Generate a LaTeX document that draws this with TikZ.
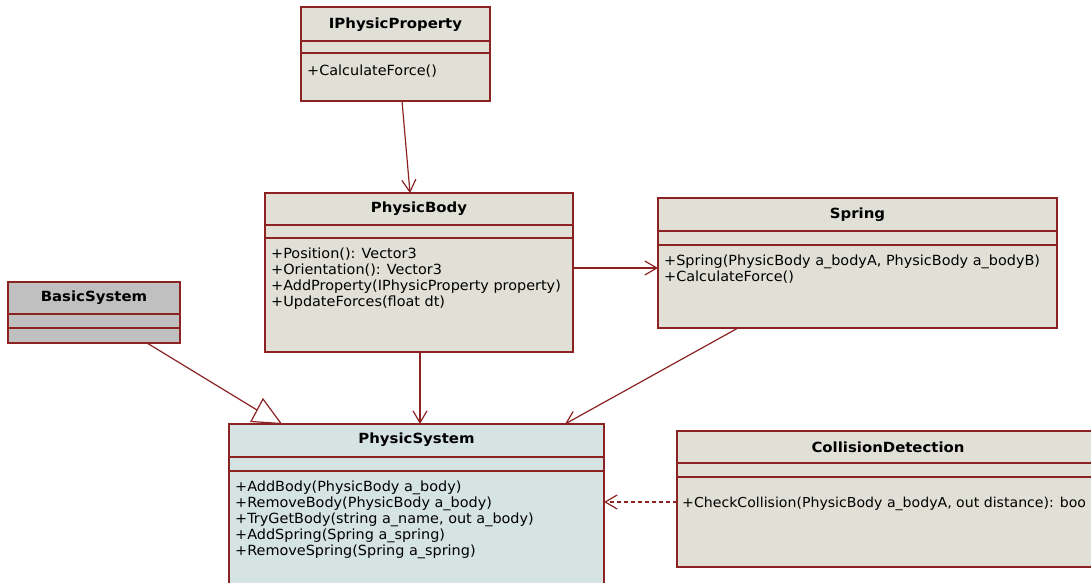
\documentclass[tikz,border=0pt]{standalone}
\usepackage{fontspec}
\setmainfont{DejaVu Sans}
\newfontfamily\umlfont[FakeStretch=1.03]{DejaVu Sans}
\newfontfamily\umlbold[FakeStretch=1.065]{DejaVu Sans Bold}
\usetikzlibrary{arrows.meta}
\definecolor{umlborder}{RGB}{140,34,34}
\definecolor{boxfill}{RGB}{225,224,214}
\definecolor{sysfill}{RGB}{213,227,227}
\definecolor{basefill}{RGB}{192,192,192}
\begin{document}
\begin{tikzpicture}[x=1pt,y=-1pt,
  classbox/.style={draw=umlborder, line width=1.3pt, inner sep=0pt, outer sep=0pt, anchor=north west},
  sepline/.style={draw=umlborder, line width=1.2pt},
  ctitle/.style={font=\umlbold\fontsize{14}{16}\selectfont, inner sep=0pt, anchor=center},
  cops/.style={font=\umlfont\fontsize{14}{16}\selectfont, align=left, inner sep=0pt, anchor=north west},
  conn/.style={draw=umlborder, line width=1.2pt, -{Straight Barb[length=12pt,width=14pt]}},
  genline/.style={draw=umlborder, line width=1.2pt},
]
\useasboundingbox (0,0) rectangle (1091,582);
\clip (0,0) rectangle (1091,582);
\fill[white] (0,0) rectangle (1091,582);

% IPhysicProperty
\node[classbox, fill=boxfill, minimum width=189pt, minimum height=94pt] (ipp) at (301,7) {};
\draw[sepline] ([yshift=-34pt]ipp.north west) -- ([yshift=-34pt]ipp.north east);
\draw[sepline] ([yshift=-46pt]ipp.north west) -- ([yshift=-46pt]ipp.north east);
\node[ctitle] (ippt) at (395.5,25) {IPhysicProperty};
\node[cops] (ippo) at (307,64.5) {+CalculateForce()};

% PhysicBody
\node[classbox, fill=boxfill, minimum width=308pt, minimum height=159pt] (pb) at (265,193) {};
\draw[sepline] ([yshift=-32pt]pb.north west) -- ([yshift=-32pt]pb.north east);
\draw[sepline] ([yshift=-45pt]pb.north west) -- ([yshift=-45pt]pb.north east);
\node[ctitle] (pbt) at (419,209) {PhysicBody};
\node[cops] (pbo) at (271,247.5) {+Position(): Vector3\\+Orientation(): Vector3\\+AddProperty(IPhysicProperty property)\\+UpdateForces(float dt)};

% Spring
\node[classbox, fill=boxfill, minimum width=399pt, minimum height=130pt] (sp) at (658,198) {};
\draw[sepline] ([yshift=-33pt]sp.north west) -- ([yshift=-33pt]sp.north east);
\draw[sepline] ([yshift=-47pt]sp.north west) -- ([yshift=-47pt]sp.north east);
\node[ctitle] (spt) at (857.5,215) {Spring};
\node[cops] (spo) at (664,255) {+Spring(PhysicBody a\_bodyA, PhysicBody a\_bodyB)\\+CalculateForce()};

% BasicSystem
\node[classbox, fill=basefill, minimum width=172pt, minimum height=61pt] (bs) at (8,282) {};
\draw[sepline] ([yshift=-32pt]bs.north west) -- ([yshift=-32pt]bs.north east);
\draw[sepline] ([yshift=-46pt]bs.north west) -- ([yshift=-46pt]bs.north east);
\node[ctitle] (bst) at (94,298) {BasicSystem};

% PhysicSystem
\node[classbox, fill=sysfill, minimum width=375pt, minimum height=200pt] (ps) at (229,424) {};
\draw[sepline] ([yshift=-33pt]ps.north west) -- ([yshift=-33pt]ps.north east);
\draw[sepline] ([yshift=-47pt]ps.north west) -- ([yshift=-47pt]ps.north east);
\node[ctitle] (pst) at (416.5,440) {PhysicSystem};
\node[cops] (pso) at (235,481) {+AddBody(PhysicBody a\_body)\\+RemoveBody(PhysicBody a\_body)\\+TryGetBody(string a\_name, out a\_body)\\+AddSpring(Spring a\_spring)\\+RemoveSpring(Spring a\_spring)};

% CollisionDetection
\node[classbox, fill=boxfill, minimum width=422pt, minimum height=136pt] (cd) at (677,431) {};
\draw[sepline] ([yshift=-32pt]cd.north west) -- ([yshift=-32pt]cd.north east);
\draw[sepline] ([yshift=-46pt]cd.north west) -- ([yshift=-46pt]cd.north east);
\node[ctitle] (cdt) at (888,447) {CollisionDetection};
\node[cops, font=\umlfont\fontsize{13.7}{16}\selectfont] (cdo) at (682,496.5) {+CheckCollision(PhysicBody a\_bodyA, out distance): boo};

% connectors
\draw[conn] ([xshift=6.5pt]ipp.south) -- ([xshift=-9pt]pb.north);
\draw[conn] ([yshift=-75pt]pb.north east) -- ([yshift=-75pt]pb.north east -| sp.west);
\draw[conn] ([xshift=1pt]pb.south) -- ([xshift=1pt]pb.south |- ps.north);
\draw[conn] ([xshift=-119.5pt]sp.south) -- ([xshift=148.5pt]ps.north);
\draw[conn, dash pattern=on 4pt off 3pt] ([yshift=-71pt]cd.north west) -- ([yshift=-71pt]cd.north west -| ps.east);

% generalization
\coordinate (gA) at (263,399);
\coordinate (gB) at (251,421.5);
\coordinate (gC) at (281,423.5);
\coordinate (gM) at (257,410);
\draw[genline] ([xshift=53pt]bs.south) -- (gM);
\draw[genline, fill=white] (gA) -- (gB) -- (gC) -- cycle;
\end{tikzpicture}
\end{document}
